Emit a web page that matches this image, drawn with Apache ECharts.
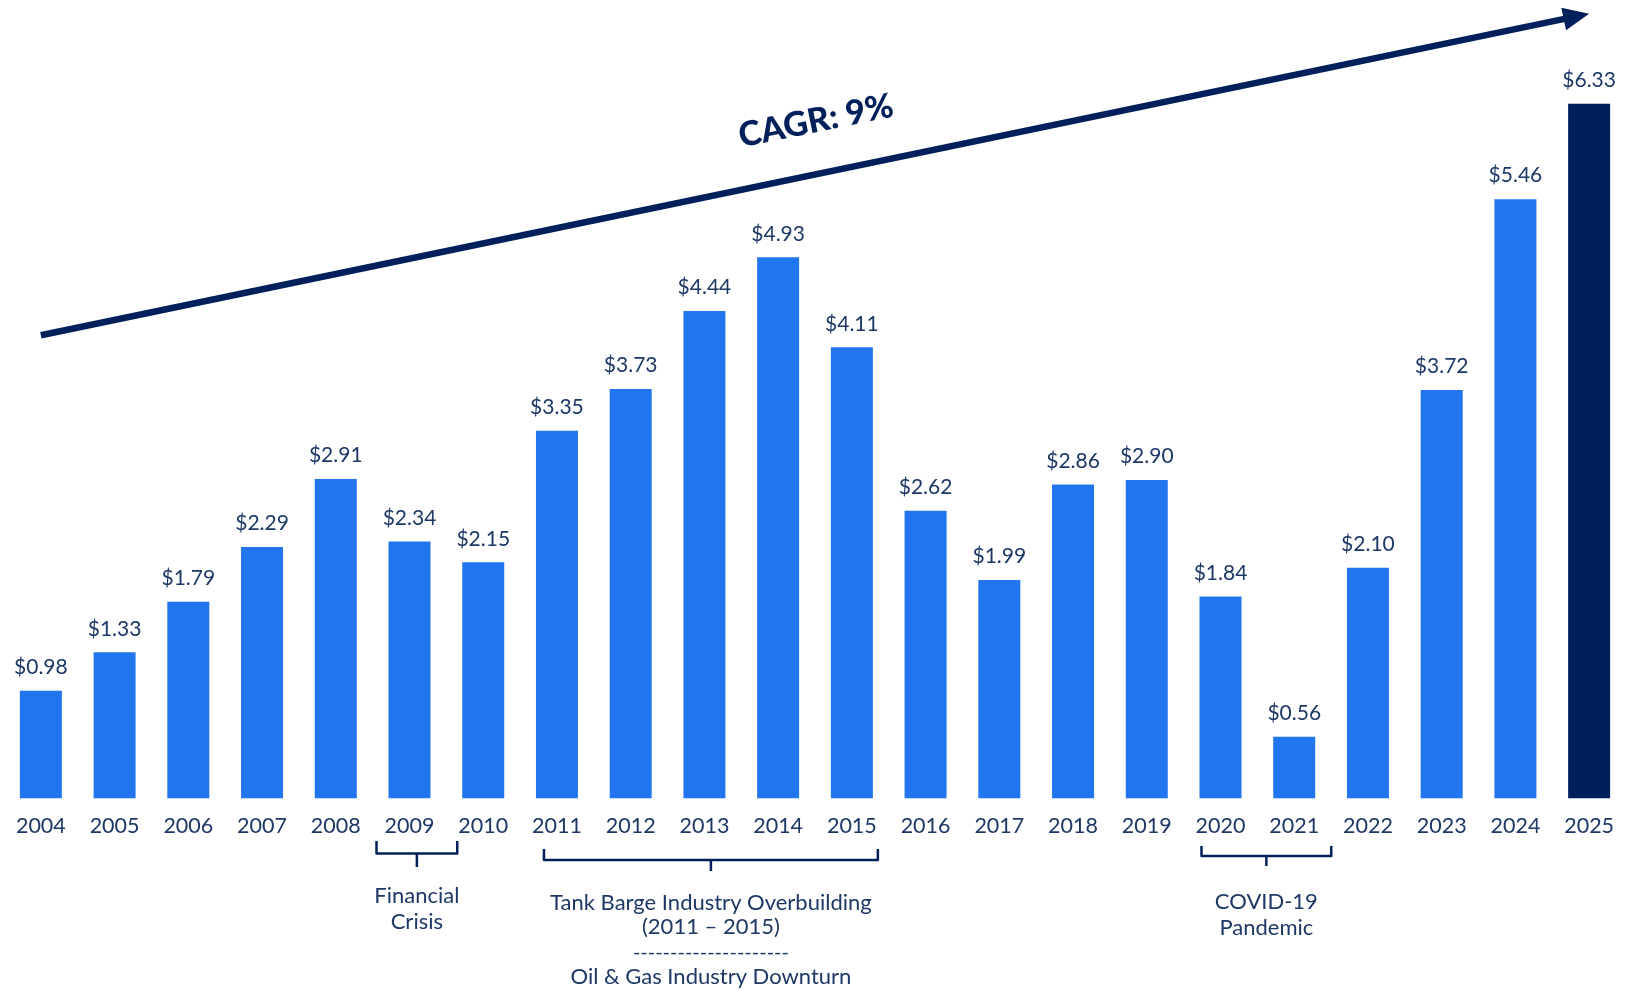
<!DOCTYPE html>
<html>
<head>
<meta charset="utf-8">
<script src="https://cdn.jsdelivr.net/npm/echarts@6/dist/echarts.min.js"></script>
<style>
  html, body { margin: 0; padding: 0; background: #ffffff; }
  #chart { width: 1626px; height: 990px; }
</style>
</head>
<body>
<div id="chart"></div>
<script>
// Annual values by year
const years = ['2004', '2005', '2006', '2007', '2008', '2009', '2010', '2011', '2012', '2013', '2014',
               '2015', '2016', '2017', '2018', '2019', '2020', '2021', '2022', '2023', '2024', '2025'];
const values = [0.98, 1.33, 1.79, 2.29, 2.91, 2.34, 2.15, 3.35, 3.73, 4.44, 4.93,
                4.11, 2.62, 1.99, 2.86, 2.90, 1.84, 0.56, 2.10, 3.72, 5.46, 6.33];
const highlightYear = '2025';
const trendLabel = 'CAGR: 9%';
// Trend arrow endpoints, in axis units
const trendStart = ['2004', 4.22];
const trendEnd = ['2025', 7.15];

const BLUE = '#2176F0';
const NAVY = '#00205B';
const TEXT = '#1D3766';
const FONT = 'Lato, "Open Sans", sans-serif';

const chart = echarts.init(document.getElementById('chart'), null, { renderer: 'canvas' });

chart.setOption({
  backgroundColor: '#ffffff',
  animation: false,
  grid: { left: 4, right: 0, top: 8.2, bottom: 191.7, containLabel: false },
  xAxis: {
    type: 'category',
    data: years,
    axisLine: { show: false },
    axisTick: { show: false },
    axisLabel: { color: TEXT, fontSize: 21.5, fontFamily: FONT, margin: 17, interval: 0 }
  },
  yAxis: { type: 'value', min: 0, max: 7.2, show: false },
  series: [{
    type: 'bar',
    barWidth: 42,
    data: values.map((v, i) => ({
      value: v,
      itemStyle: { color: years[i] === highlightYear ? NAVY : BLUE }
    })),
    label: {
      show: true,
      position: 'top',
      distance: 13,
      color: TEXT,
      fontSize: 21,
      fontFamily: FONT,
      formatter: p => '$' + p.value.toFixed(2)
    }
  }]
});

// Annotations: trend arrow, CAGR text, period brackets
function px(cat, val) {
  return chart.convertToPixel({ xAxisIndex: 0, yAxisIndex: 0 }, [cat, val]);
}
function catX(cat) {
  return chart.convertToPixel({ xAxisIndex: 0 }, cat);
}

const a = px(trendStart[0], trendStart[1]);
const b = px(trendEnd[0], trendEnd[1]);
const dx = b[0] - a[0], dy = b[1] - a[1];
const len = Math.hypot(dx, dy);
const ux = dx / len, uy = dy / len;
const nx = -uy, ny = ux;
const headLen = 26, headHalf = 11.5;
const base = [b[0] - ux * headLen, b[1] - uy * headLen];

function bracket(x1, x2, xm, top, mid, bottom) {
  return [
    { type: 'polyline', shape: { points: [[x1, top], [x1, mid], [x2, mid], [x2, top]] },
      style: { stroke: NAVY, lineWidth: 2.5, fill: null, lineJoin: 'round' } },
    { type: 'line', shape: { x1: xm, y1: mid, x2: xm, y2: bottom },
      style: { stroke: NAVY, lineWidth: 2.5 } }
  ];
}
function note(x, y, text, lineHeight, size) {
  return { type: 'text', x: x, y: y,
    style: { text: text, fill: TEXT, fontSize: size || 22, fontFamily: FONT,
             align: 'center', verticalAlign: 'middle', lineHeight: lineHeight || 25 } };
}

const x2009 = catX('2009'), x2010 = catX('2010');
const x2011 = catX('2011'), x2015 = catX('2015');
const x2020 = catX('2020'), x2021 = catX('2021');

const fcL = x2009 - 33, fcR = x2010 - 26, fcM = (fcL + fcR) / 2;
const tbL = x2011 - 13, tbR = x2015 + 26, tbM = (tbL + tbR) / 2;
const cvL = x2020 - 19, cvR = x2021 + 37, cvM = (cvL + cvR) / 2;

const graphics = [
  { type: 'line', shape: { x1: a[0], y1: a[1], x2: base[0] + ux * 2, y2: base[1] + uy * 2 },
    style: { stroke: NAVY, lineWidth: 6.5 } },
  { type: 'polygon', shape: { points: [
      [b[0], b[1]],
      [base[0] + nx * headHalf, base[1] + ny * headHalf],
      [base[0] - nx * headHalf, base[1] - ny * headHalf]
    ] }, style: { fill: NAVY } },
  { type: 'text', x: 816, y: 121, rotation: 0.2,
    style: { text: trendLabel, fill: NAVY, fontSize: 34, fontWeight: 900, fontFamily: FONT,
             align: 'center', verticalAlign: 'middle' } }
]
  .concat(bracket(fcL, fcR, fcM, 841, 853.5, 867))
  .concat(bracket(tbL, tbR, tbM, 849, 860, 871))
  .concat(bracket(cvL, cvR, cvM, 846, 856, 866))
  .concat([
    note(fcM, 909, 'Financial\nCrisis', 26),
    note(tbM, 914.7, 'Tank Barge Industry Overbuilding\n(2011 \u2013 2015)', 24.5),
    note(tbM, 953, '---------------------', 25, 20),
    note(tbM, 977, 'Oil & Gas Industry Downturn'),
    note(cvM, 915, 'COVID-19\nPandemic', 25.5)
  ]);

chart.setOption({ graphic: { elements: graphics } });
</script>
</body>
</html>
